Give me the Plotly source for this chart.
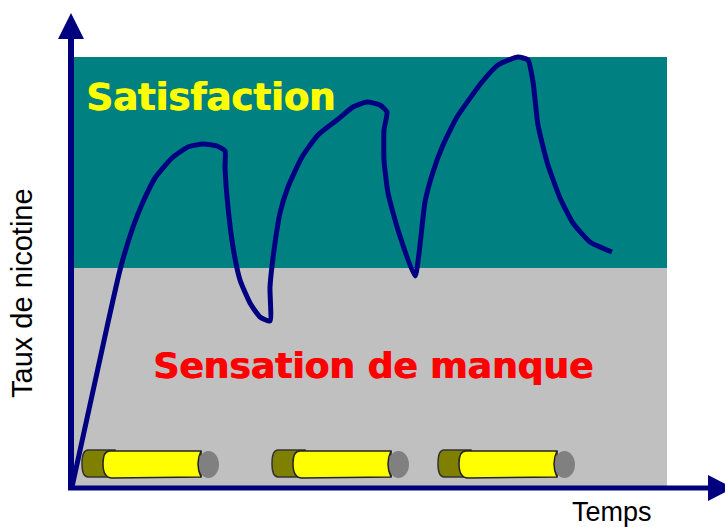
import plotly.graph_objects as go

# Data units: horizontal = time, vertical = nicotine level
time_vals = [0, 35, 48, 61, 71, 83, 100, 116, 131, 145, 153, 153, 156, 161, 168, 178, 188, 198, 198, 203, 208, 216, 230, 246, 265, 281, 295, 308, 315, 312, 312, 316, 326, 343, 353, 361, 371, 385, 410, 426, 446, 456, 461, 466, 475, 488, 501, 518, 540]
level_vals = [0, 160, 217, 260, 285, 309, 329, 340, 343, 341, 336, 320, 280, 240, 207, 184, 170, 166, 200, 244, 274, 300, 330, 352, 367, 380, 385, 382, 375, 357, 327, 294, 257, 211, 285, 315, 342, 370, 405, 422, 430, 427, 405, 362, 325, 289, 264, 245, 235]
threshold = 219
level_top = 430
time_end = 595
cigarette_starts = [13, 203, 369]
zone_labels = ["Satisfaction", "Sensation de manque"]
x_title = "Temps"
y_title = "Taux de nicotine"

NAVY = "#00007F"
fig = go.Figure()

shapes = [
    dict(type="rect", x0=0, x1=time_end, y0=threshold, y1=level_top, fillcolor="#008080", line_width=0, layer="below"),
    dict(type="rect", x0=0, x1=time_end, y0=0, y1=threshold, fillcolor="#C0C0C0", line_width=0, layer="below"),
]
for s in cigarette_starts:
    yb, yt = 10, 37
    shapes.append(dict(type="path", path=f"M {s+8},{yt} L {s+3},{yt} Q {s-3},{yt} {s-3},{(yb+yt)/2} Q {s-3},{yb} {s+3},{yb} L {s+30},{yb} L {s+30},{yt} Z",
                       fillcolor="#808000", line=dict(color="#333333", width=1.5)))
    shapes.append(dict(type="path", path=f"M {s+116},{yt-1} L {s+25},{yt-1} Q {s+18},{yt-1} {s+18},{(yb+yt)/2} Q {s+18},{yb-1} {s+27},{yb-1} L {s+116},{yb} Z",
                       fillcolor="#FFFF00", line=dict(color="#222222", width=1.5)))
    shapes.append(dict(type="circle", x0=s+113, x1=s+134, y0=yb-1, y1=yt-1, fillcolor="#808080", line_width=0))
    shapes.append(dict(type="path", path=f"M {s+116},{yt-1} Q {s+110},{(yb+yt)/2} {s+116},{yb}",
                       line=dict(color="#222222", width=1.5)))
# axes with arrowheads
shapes.append(dict(type="line", x0=-1, x1=-1, y0=-3, y1=450, line=dict(color=NAVY, width=6)))
shapes.append(dict(type="line", x0=-4, x1=640, y0=-1, y1=-1, line=dict(color=NAVY, width=5)))
shapes.append(dict(type="path", path="M -14,448 L 12,448 L -1,474 Z", fillcolor=NAVY, line_width=0))
shapes.append(dict(type="path", path="M 636,12 L 636,-14 L 661,-1 Z", fillcolor=NAVY, line_width=0))
fig.update_layout(shapes=shapes)

fig.add_trace(go.Scatter(x=time_vals, y=level_vals, mode="lines",
                         line=dict(color="#000080", width=5, shape="spline", smoothing=0.5),
                         hoverinfo="skip", showlegend=False))

font_fam = "DejaVu Sans"
anns = [
    dict(x=138, y=390, text=f"<b>{zone_labels[0]}</b>",
         font=dict(family=font_fam, size=37, color="#FFFF00", shadow="1px 0 0 #FFFF00")),
    dict(x=300.5, y=122, text=f"<b>{zone_labels[1]}</b>",
         font=dict(family=font_fam, size=36, color="#FF0000", shadow="1px 0 0 #FF0000")),
    dict(x=539.5, y=-25, text=x_title, font=dict(family="Liberation Sans", size=27, color="#000000")),
    dict(x=-50, y=194, text=y_title, textangle=-90, font=dict(family="Liberation Sans", size=29, color="#000000")),
]
for a in anns:
    a.update(showarrow=False, xanchor="center", yanchor="middle")
fig.update_layout(
    annotations=anns,
    width=725, height=527,
    margin=dict(l=0, r=0, t=0, b=0),
    paper_bgcolor="white", plot_bgcolor="white",
    xaxis=dict(range=[-72, 653], visible=False),
    yaxis=dict(range=[-40, 487], visible=False),
    showlegend=False,
)
fig.write_html("out.html", config=dict(displayModeBar=False),
               post_script="document.body.style.margin='0';document.documentElement.style.overflow='hidden';")
